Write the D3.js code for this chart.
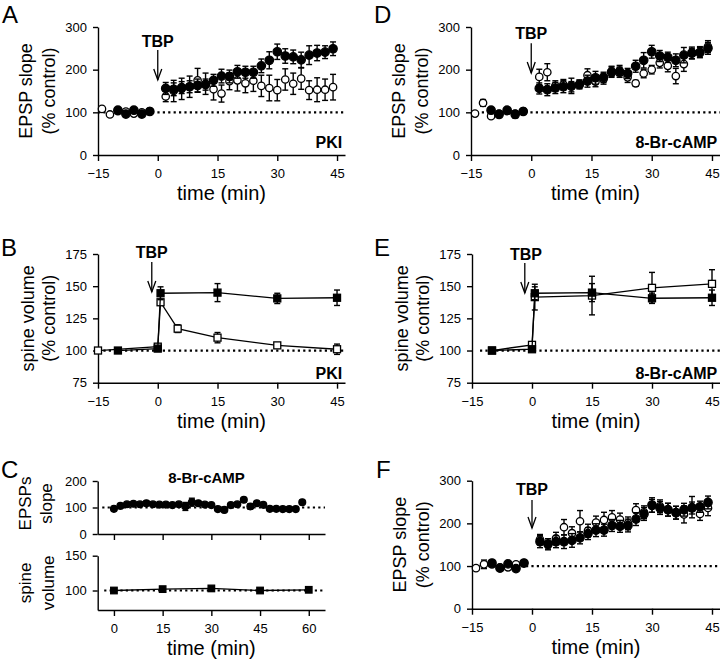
<!doctype html>
<html>
<head>
<meta charset="utf-8">
<script src="https://cdn.jsdelivr.net/npm/d3@7"></script>
<style>
  body { margin: 0; background: #fff; }
  text { font-family: "Liberation Sans", Arial, sans-serif; fill: #000; }
</style>
</head>
<body>
<script>
// ---- data ----
// EPSP slope panels (A, D, F): every 2 min
var tSlope = [-14,-12,-10,-8,-6,-4,-2,2,4,6,8,10,12,14,16,18,20,22,24,26,28,30,32,34,36,38,40,42,44];

var aFilled    = [null,null,105,96,105,96,102,156,154,158,160,163,165,175,185,184,195,194,194,209,222,242,232,230,223,234,239,241,249];
var aFilledErr = [0,0,4,4,4,4,4,14,15,14,14,15,13,14,16,15,15,14,14,16,20,18,17,16,18,22,18,15,16];
var aOpen      = [108,95,103,102,97,100,103,137,150,155,160,175,167,154,144,173,175,168,174,162,157,152,177,167,179,152,153,153,159];
var aOpenErr   = [4,3,4,4,4,4,4,12,25,25,25,28,25,25,20,20,25,22,25,25,30,25,25,25,25,22,28,25,30];

var dFilled    = [null,null,105,95,105,95,102,156,153,157,160,162,165,173,181,182,194,194,191,208,222,242,232,229,222,234,239,240,250];
var dFilledErr = [0,0,5,4,4,8,5,13,14,13,14,18,10,14,15,12,12,12,12,14,18,15,13,12,15,18,14,12,14];
var dOpen      = [97,122,91,97,103,97,103,183,194,162,165,160,166,187,172,178,196,198,182,168,191,200,216,209,185,213,238,242,254];
var dOpenErr   = [3,8,4,4,4,4,4,18,20,12,12,12,10,15,12,12,12,12,12,7,10,10,12,14,18,17,12,12,14];

var fFilled    = [null,null,107,95,105,94,107,157,151,157,157,160,166,176,184,184,195,193,195,210,222,243,236,232,225,232,236,239,249];
var fFilledErr = [0,0,5,4,4,4,4,14,13,14,16,16,14,14,15,14,14,14,15,15,15,17,15,15,15,15,14,13,15];
var fOpen      = [95,104,104,97,97,104,107,162,152,165,191,177,205,183,202,208,214,209,200,231,226,241,240,232,225,221,238,222,236];
var fOpenErr   = [5,10,4,4,4,4,4,12,12,14,18,15,25,15,15,18,16,15,15,15,15,15,15,15,15,20,25,15,18];

// spine volume panels (B, E)
var bOpenT    = [-15,0,0.7,5,15,30,45];
var bOpen     = [100,103,137.5,117,110,104,101];
var bOpenErr  = [0,1,2,3,4,1,4];
var bFilledT  = [-10,0,0.7,15,30,45];
var bFilled   = [100,101.5,144.5,145,140.5,141];
var bFilledErr= [1,1,5,7,4,6];

var eOpenT    = [-10,0,0.7,15,30,45];
var eOpen     = [100,104.4,141.5,142.7,148.7,151.8];
var eOpenErr  = [0,1,10,15,12,11];
var eFilledT  = [-10,0,0.7,15,30,45];
var eFilled   = [100,101,144.5,145,140.6,141];
var eFilledErr= [1,1,5,7,4,6];

// panel C (8-Br-cAMP alone)
var cSlopeT   = [0,2,4,6,8,10,12,14,16,18,20,22,24,26,28,30,32,34,36,38,40,42,44,46,48,50,52,54,56,58];
var cSlope    = [95,106,112,114,112,116,112,111,111,109,112,104,120,116,111,109,94,91,109,112,129,104,116,110,95,95,94,94,94,120];
var cSlopeErr = [3,3,3,3,3,8,3,3,3,3,3,15,15,3,3,3,3,3,3,3,8,10,3,3,3,3,3,3,3,5];
var cVolT     = [0,15,30,45,60];
var cVol      = [100,102,103,100,101];

var ticksSlopeX = [-15,0,15,30,45];
var ticksC = [0,15,30,45,60];

var W = 720, H = 661;
var svg = d3.select("body").append("svg")
  .attr("width", W).attr("height", H)
  .style("background", "#fff");

// build a panel: scales, axes and titles
function panel(o) {
  var x = d3.scaleLinear().domain(o.xd).range([o.left, o.right]);
  var y = d3.scaleLinear().domain(o.yd).range([o.bottom, o.top]);
  var g = svg.append("g");

  var xa = d3.axisBottom(x).tickValues(o.xt).tickSize(6).tickPadding(8).tickSizeOuter(0);
  if (!o.xLabels) xa.tickFormat("");
  var gx = g.append("g").attr("transform", "translate(0," + o.bottom + ")").call(xa);
  var ya = d3.axisLeft(y).tickValues(o.yt).tickSize(5).tickPadding(6).tickSizeOuter(0);
  var gy = g.append("g").attr("transform", "translate(" + o.left + ",0)").call(ya);
  [gx, gy].forEach(function(a) {
    a.selectAll("path,line").attr("stroke", "#000").attr("stroke-width", 1.4);
    a.selectAll("text").attr("font-size", "13px").attr("fill", "#000")
      .style("font-family", "'Liberation Sans', Arial, sans-serif");
  });

  // dotted 100% line
  g.append("line")
    .attr("x1", x(o.dot[0])).attr("x2", x(o.dot[1]))
    .attr("y1", y(100)).attr("y2", y(100))
    .attr("stroke", "#000").attr("stroke-width", 2.2)
    .attr("stroke-dasharray", "2.2,3.2");

  if (o.xTitle) {
    g.append("text")
      .attr("x", (o.left + o.right) / 2)
      .attr("y", o.bottom + 45)
      .attr("text-anchor", "middle").attr("font-size", "20px").text("time (min)");
  }
  var cy = (o.top + o.bottom) / 2 + (o.yTitleDy || 0);
  o.yTitle.forEach(function(s, i) {
    g.append("text")
      .attr("transform", "translate(" + (o.left - o.yTitleOff[i]) + "," + cy + ") rotate(-90)")
      .attr("text-anchor", "middle").attr("font-size", o.yTitleSize || "18px").text(s);
  });
  return { x: x, y: y, g: g };
}

function errBars(p, t, v, e) {
  var pts = t.map(function(d, i) { return { t: d, v: v[i], e: e[i] }; })
    .filter(function(d) { return d.v != null && d.e > 0; });
  var eb = p.g.append("g").attr("stroke", "#000").attr("stroke-width", 1.4);
  eb.selectAll(".v").data(pts).enter().append("line")
    .attr("x1", function(d) { return p.x(d.t); }).attr("x2", function(d) { return p.x(d.t); })
    .attr("y1", function(d) { return p.y(d.v - d.e); }).attr("y2", function(d) { return p.y(d.v + d.e); });
  [1, -1].forEach(function(s) {
    eb.selectAll(".c" + s).data(pts).enter().append("line")
      .attr("x1", function(d) { return p.x(d.t) - 3; }).attr("x2", function(d) { return p.x(d.t) + 3; })
      .attr("y1", function(d) { return p.y(d.v + s * d.e); }).attr("y2", function(d) { return p.y(d.v + s * d.e); });
  });
}

function circles(p, t, v, e, filled, r) {
  errBars(p, t, v, e);
  var pts = t.map(function(d, i) { return { t: d, v: v[i] }; }).filter(function(d) { return d.v != null; });
  p.g.append("g").selectAll("circle").data(pts).enter().append("circle")
    .attr("cx", function(d) { return p.x(d.t); }).attr("cy", function(d) { return p.y(d.v); })
    .attr("r", r || (filled ? 4.2 : 3.7))
    .attr("fill", filled ? "#000" : "#fff").attr("stroke", "#000").attr("stroke-width", 1.3);
}

function squares(p, t, v, e, filled, sz) {
  var pts = t.map(function(d, i) { return { t: d, v: v[i] }; });
  p.g.append("path").datum(pts)
    .attr("d", d3.line().x(function(d) { return p.x(d.t); }).y(function(d) { return p.y(d.v); }))
    .attr("fill", "none").attr("stroke", "#000").attr("stroke-width", 1.3);
  if (e) errBars(p, t, v, e);
  p.g.append("g").selectAll("rect").data(pts).enter().append("rect")
    .attr("x", function(d) { return p.x(d.t) - sz / 2; }).attr("y", function(d) { return p.y(d.v) - sz / 2; })
    .attr("width", sz).attr("height", sz)
    .attr("fill", filled ? "#000" : "#fff").attr("stroke", "#000").attr("stroke-width", 1.3);
}

function tbp(p, t, yFrom, yTo, labelT, labelY) {
  var x0 = p.x(t), y1 = p.y(yFrom), y2 = p.y(yTo);
  p.g.append("line").attr("x1", x0).attr("x2", x0).attr("y1", y1).attr("y2", y2)
    .attr("stroke", "#000").attr("stroke-width", 1.3);
  p.g.append("path").attr("d", "M" + (x0 - 4) + "," + (y2 - 11) + "L" + x0 + "," + y2 + "L" + (x0 + 4) + "," + (y2 - 11))
    .attr("fill", "none").attr("stroke", "#000").attr("stroke-width", 1.3);
  p.g.append("text").attr("x", p.x(labelT)).attr("y", p.y(labelY))
    .attr("text-anchor", "middle").attr("font-size", "16px").attr("font-weight", "bold").text("TBP");
}

function tag(p, s, xv, yv, anchor, size) {
  p.g.append("text").attr("x", p.x(xv)).attr("y", p.y(yv))
    .attr("text-anchor", anchor).attr("font-size", size || "16px").attr("font-weight", "bold").text(s);
}

function letter(s, x, y) {
  svg.append("text").attr("x", x).attr("y", y).attr("font-size", "24px").text(s);
}

// ---- A ----
var pA = panel({ left: 98, right: 345, top: 27, bottom: 155, xd: [-15, 47], yd: [0, 300],
  xt: ticksSlopeX, yt: [0, 100, 200, 300], xLabels: true, xTitle: true, dot: [-15, 47],
  yTitle: ["EPSP slope", "(% control)"], yTitleOff: [66, 43] });
circles(pA, tSlope, aOpen, aOpenErr, false);
circles(pA, tSlope, aFilled, aFilledErr, true);
tbp(pA, 0, 246, 176, 0, 253);
tag(pA, "PKI", 46.3, 17, "end");

// ---- D ----
var pD = panel({ left: 471, right: 720, top: 27, bottom: 155, xd: [-15, 47], yd: [0, 300],
  xt: ticksSlopeX, yt: [0, 100, 200, 300], xLabels: true, xTitle: true, dot: [-15, 47],
  yTitle: ["EPSP slope", "(% control)"], yTitleOff: [66, 43] });
circles(pD, tSlope, dOpen, dOpenErr, false);
circles(pD, tSlope, dFilled, dFilledErr, true);
tbp(pD, 0, 262, 192, 0, 272);
tag(pD, "8-Br-cAMP", 46.3, 17, "end");

// ---- B ----
var pB = panel({ left: 98, right: 345, top: 254, bottom: 382.7, xd: [-15, 47], yd: [75, 175],
  xt: ticksSlopeX, yt: [75, 100, 125, 150, 175], xLabels: true, xTitle: true, dot: [-15, 47],
  yTitle: ["spine volume", "(% control)"], yTitleOff: [64, 43] });
squares(pB, bOpenT, bOpen, bOpenErr, false, 7);
squares(pB, bFilledT, bFilled, bFilledErr, true, 7);
tbp(pB, -1.5, 168.8, 145.5, -1.5, 171.9);
tag(pB, "PKI", 46.3, 78, "end");

// ---- E ----
var pE = panel({ left: 472, right: 720, top: 254, bottom: 382.7, xd: [-15, 47], yd: [75, 175],
  xt: ticksSlopeX, yt: [75, 100, 125, 150, 175], xLabels: true, xTitle: true, dot: [-13, 47],
  yTitle: ["spine volume", "(% control)"], yTitleOff: [64, 43] });
squares(pE, eOpenT, eOpen, eOpenErr, false, 7);
squares(pE, eFilledT, eFilled, eFilledErr, true, 7);
tbp(pE, -1.8, 168, 144.7, -1.5, 170.3);
tag(pE, "8-Br-cAMP", 46.3, 78, "end");

// ---- C ----
var pC1 = panel({ left: 97.7, right: 325, top: 481, bottom: 534, xd: [-5, 65], yd: [0, 200],
  xt: ticksC, yt: [0, 100, 200], xLabels: false, xTitle: false, dot: [-3.6, 65],
  yTitle: ["EPSPs", "slope"], yTitleOff: [67, 46], yTitleDy: -4, yTitleSize: "17px" });
circles(pC1, cSlopeT, cSlope, cSlopeErr, true, 3.4);
tag(pC1, "8-Br-cAMP", 28.5, 191, "middle", "15px");

var pC2 = panel({ left: 97.7, right: 325, top: 555.7, bottom: 610, xd: [-5, 65], yd: [72, 150],
  xt: ticksC, yt: [100, 150], xLabels: true, xTitle: true, dot: [-3, 65],
  yTitle: ["spine", "volume"], yTitleOff: [67, 44], yTitleSize: "17px" });
squares(pC2, cVolT, cVol, null, true, 6.5);

// ---- F ----
var pF = panel({ left: 472, right: 720, top: 480.7, bottom: 608.7, xd: [-15, 47], yd: [0, 300],
  xt: ticksSlopeX, yt: [0, 100, 200, 300], xLabels: true, xTitle: true, dot: [-15, 47],
  yTitle: ["EPSP slope", "(% control)"], yTitleOff: [66, 43] });
circles(pF, tSlope, fOpen, fOpenErr, false);
circles(pF, tSlope, fFilled, fFilledErr, true);
tbp(pF, 0, 254.8, 189, 0, 266.5);

// panel letters
letter("A", 2, 23);
letter("B", 1, 256);
letter("C", 1, 478);
letter("D", 374, 23);
letter("E", 374, 256);
letter("F", 376, 478);
</script>
</body>
</html>
